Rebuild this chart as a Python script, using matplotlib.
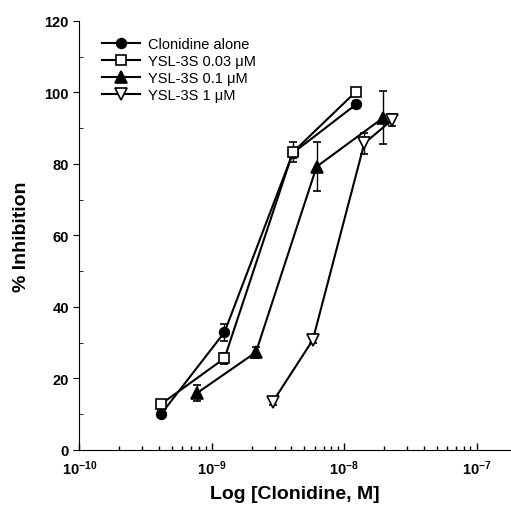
import matplotlib.pyplot as plt
import numpy as np
from matplotlib.ticker import FixedLocator, LogFormatterSciNotation, MultipleLocator

plt.rcParams['font.family'] = ['Liberation Sans', 'DejaVu Sans']

labels = ['Clonidine alone', 'YSL-3S 0.03 \u03bcM', 'YSL-3S 0.1 \u03bcM', 'YSL-3S 1 \u03bcM']
decades = [1e-10, 1e-9, 1e-8, 1e-7]

alone_x = [4.15e-10, 1.25e-9, 4.1e-9, 1.23e-8]
alone_y = [10.0, 32.9, 83.0, 96.6]
alone_err = [0.8, 2.4, 1.5, 1.0]

low_x = [4.15e-10, 1.25e-9, 4.1e-9, 1.23e-8]
low_y = [12.8, 25.6, 83.2, 100.2]
low_err = [0.8, 1.5, 2.8, 1.0]

mid_x = [7.7e-10, 2.16e-9, 6.2e-9, 1.98e-8]
mid_y = [15.8, 27.3, 79.2, 92.9]
mid_err = [2.2, 1.6, 6.8, 7.4]

high_x = [2.9e-9, 5.8e-9, 1.42e-8, 2.29e-8]
high_y = [13.5, 30.7, 85.7, 92.2]
high_err = [1.0, 0.8, 3.0, 1.6]

series = [
    (alone_x, alone_y, alone_err, 'o', 'black'),
    (low_x, low_y, low_err, 's', 'white'),
    (mid_x, mid_y, mid_err, '^', 'black'),
    (high_x, high_y, high_err, 'v', 'white'),
]

fig = plt.figure(figsize=(5.11, 5.06), dpi=100)
ax = fig.add_axes([0.155, 0.109, 0.845, 0.848])

for (x, y, err, marker, face), label in zip(series, labels):
    ax.errorbar(x, y, yerr=err, color='black', marker=marker,
                markerfacecolor=face, markeredgecolor='black',
                markersize=7 if marker in 'os' else 8, markeredgewidth=1.2,
                linewidth=1.5, elinewidth=1.0, capsize=3, capthick=1.0,
                label=label)

ax.set_xscale('log')
ax.set_xlim(1e-10, 1.82e-7)
ax.set_ylim(0, 120)
ax.yaxis.set_major_locator(MultipleLocator(20))
ax.yaxis.set_minor_locator(MultipleLocator(10))
minors = [d * k for d in decades[:-1] for k in range(2, 10)] + [1e-7 * k for k in (2,) if 1e-7 * k < 1.82e-7]
ax.xaxis.set_major_locator(FixedLocator(decades))
ax.xaxis.set_major_formatter(LogFormatterSciNotation())
ax.xaxis.set_minor_locator(FixedLocator(minors))

ax.spines['top'].set_visible(False)
ax.spines['right'].set_visible(False)
ax.tick_params(axis='x', which='both', direction='in', width=1)
ax.tick_params(axis='x', which='major', length=5, pad=6)
ax.tick_params(axis='x', which='minor', length=3, labelbottom=False)
ax.tick_params(axis='y', which='major', direction='out', length=4)
ax.tick_params(axis='y', which='minor', direction='in', length=3)

for lbl in ax.get_xticklabels() + ax.get_yticklabels():
    lbl.set_fontsize(10.5)
    lbl.set_fontweight('bold')

ax.set_xlabel('Log [Clonidine, M]', fontsize=14, fontweight='bold', labelpad=6)
ax.set_ylabel('% Inhibition', fontsize=14, fontweight='bold', labelpad=10)

handles, leg_labels = ax.get_legend_handles_labels()
handles = [h[0] for h in handles]
ax.legend(handles, leg_labels, loc='upper left', bbox_to_anchor=(0.03, 0.985),
          frameon=False, fontsize=10.5, handlelength=2.6, handletextpad=0.5,
          labelspacing=0.2, borderaxespad=0.3)

fig.savefig('out.png', dpi=100)
